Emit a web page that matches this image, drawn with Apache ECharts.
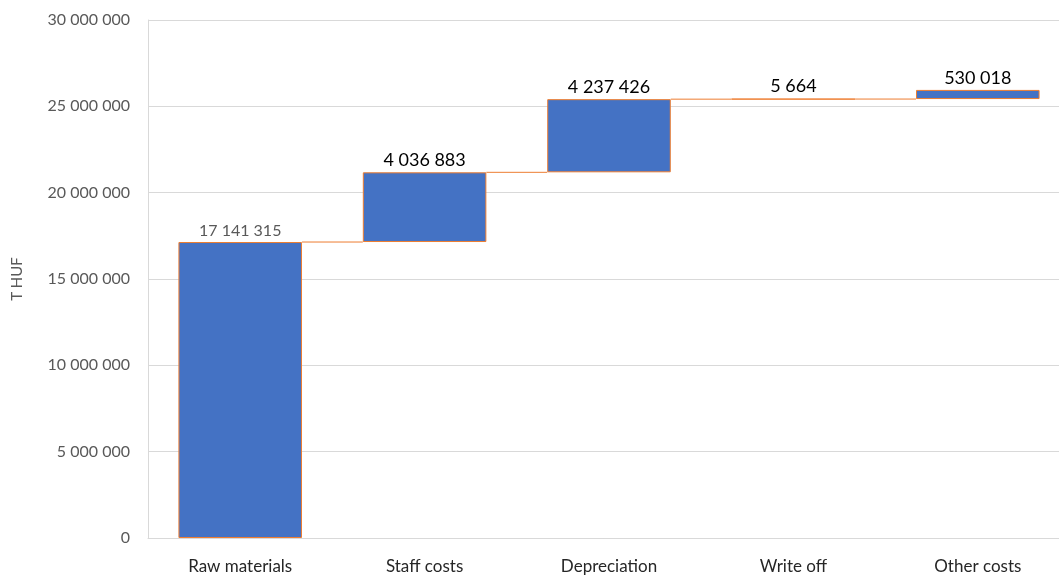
<!DOCTYPE html>
<html>
<head>
<meta charset="utf-8">
<script src="https://cdn.jsdelivr.net/npm/echarts@6/dist/echarts.min.js"></script>
<style>
  html, body { margin: 0; padding: 0; background: #fff; }
  #chart { width: 1059px; height: 577px; }
</style>
</head>
<body>
<div id="chart"></div>
<script>
// 数据
var categories = ['Raw materials', 'Staff costs', 'Depreciation', 'Write off', 'Other costs'];
var amounts = [17141315, 4036883, 4237426, 5664, 530018];
var yTicks = [0, 5000000, 10000000, 15000000, 20000000, 25000000, 30000000];

// 累计值 -> 透明底座
var bases = [];
var tops = [];
var sum = 0;
for (var i = 0; i < amounts.length; i++) {
  bases.push(sum);
  sum += amounts[i];
  tops.push(sum);
}

function fmt(v) {
  return String(v).replace(/\B(?=(\d{3})+(?!\d))/g, ' ');
}

var font = 'Lato, "Open Sans", sans-serif';

var chart = echarts.init(document.getElementById('chart'));
var option = {
  animation: false,
  grid: { left: 148, width: 922, top: 20, bottom: 39, outerBoundsMode: 'none' },
  xAxis: {
    type: 'category',
    data: categories,
    axisLine: { lineStyle: { color: '#d9d9d9', width: 1 } },
    axisTick: { show: false },
    axisLabel: { color: '#262626', fontSize: 17, fontFamily: font, margin: 20 }
  },
  yAxis: {
    type: 'value',
    min: yTicks[0],
    max: yTicks[yTicks.length - 1],
    interval: 5000000,
    name: 'T HUF',
    nameLocation: 'middle',
    nameGap: 123,
    nameTextStyle: { color: '#595959', fontSize: 15, fontFamily: font },
    axisLine: { show: true, lineStyle: { color: '#d9d9d9' } },
    axisTick: { show: false },
    splitLine: { lineStyle: { color: '#d9d9d9' } },
    axisLabel: { color: '#595959', fontSize: 16, fontFamily: font, margin: 18, formatter: fmt }
  },
  series: [
    {
      type: 'bar',
      stack: 'w',
      barWidth: '67%',
      silent: true,
      itemStyle: { color: 'transparent' },
      data: bases
    },
    {
      type: 'bar',
      stack: 'w',
      barWidth: '67%',
      itemStyle: { color: '#4472c4', borderColor: '#ed7d31', borderWidth: 1 },
      label: {
        show: true,
        position: 'top',
        distance: 3,
        fontFamily: font,
        formatter: function (p) { return fmt(p.value); }
      },
      data: amounts.map(function (v, i) {
        return {
          value: v,
          label: i === 0 ? { color: '#595959', fontSize: 16 } : { color: '#000', fontSize: 18 }
        };
      })
    },
    {
      // 连接线
      type: 'custom',
      silent: true,
      z: 3,
      data: tops.slice(0, tops.length - 1).map(function (v, i) { return [i, v]; }),
      renderItem: function (params, api) {
        var idx = api.value(0);
        var val = api.value(1);
        var half = api.size([1, 0])[0] * 0.67 / 2;
        var p1 = api.coord([idx, val]);
        var p2 = api.coord([idx + 1, val]);
        return {
          type: 'line',
          shape: { x1: p1[0] + half, y1: p1[1], x2: p2[0] - half, y2: p2[1] },
          style: { stroke: '#ed7d31', lineWidth: 1 }
        };
      }
    }
  ]
};
chart.setOption(option);
</script>
</body>
</html>
